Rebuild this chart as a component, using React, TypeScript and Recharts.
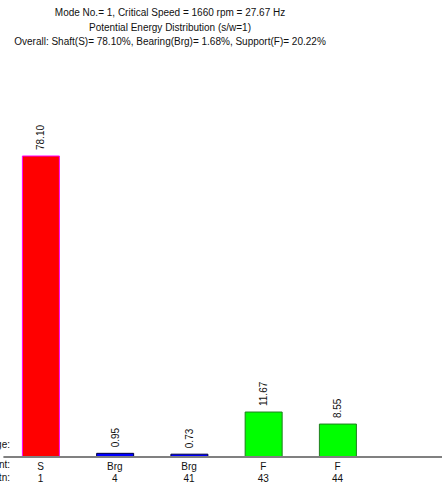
import React from 'react';
import { BarChart, Bar, XAxis, YAxis, Cell, LabelList } from 'recharts';

// Potential energy share per element (percent)
const elements = ['S', 'Brg', 'Brg', 'F', 'F'];
const stations = ['1', '4', '41', '43', '44'];
const energy = [78.10, 0.95, 0.73, 11.67, 8.55];
const fills = ['#ff0000', '#0000ff', '#0000ff', '#00ff00', '#00ff00'];
const strokes = ['#ff00ff', '#000040', '#000040', '#1f7f1f', '#1f7f1f'];
const rowLabels = ['Percentage:', 'Element:', 'Stn:'];

const titleLines = [
  'Mode No.= 1, Critical Speed = 1660 rpm = 27.67 Hz',
  'Potential Energy Distribution (s/w=1)',
  'Overall: Shaft(S)= 78.10%, Bearing(Brg)= 1.68%, Support(F)= 20.22%',
];

const data = elements.map((el, i) => ({ el, stn: stations[i], value: energy[i] }));

const FONT = '"Liberation Sans", Arial, sans-serif';
const FS = 10;
const SHIFT = 70; // part of the chart scrolled off to the left

const ElementTick = (props: any) => {
  const { x, y, payload } = props;
  const row = data[payload.index];
  return (
    <g>
      <text x={x} y={y + 5} textAnchor="middle" fontSize={FS} fontFamily={FONT} fill="#111">{payload.value}</text>
      <text x={x} y={y + 17} textAnchor="middle" fontSize={FS} fontFamily={FONT} fill="#111">{row ? row.stn : ''}</text>
    </g>
  );
};

const ValueLabel = (props: any) => {
  const { x, y, width, value } = props;
  const cx = x + width / 2;
  const top = y - 6;
  return (
    <text
      x={cx}
      y={top}
      dy="0.35em"
      transform={`rotate(-90, ${cx}, ${top})`}
      textAnchor="start"
      fontSize={FS}
      fontFamily={FONT}
      fill="#111"
    >
      {Number(value).toFixed(2)}
    </text>
  );
};

export default function App() {
  return (
    <div style={{ position: 'absolute', left: 0, top: 0, width: 442, height: 485, overflow: 'hidden', background: '#fff', fontFamily: FONT }}>
      {titleLines.map((t, i) => (
        <div
          key={i}
          style={{ position: 'absolute', left: 0, width: 340, top: 6 + i * 14.5, textAlign: 'center', fontSize: FS, lineHeight: '14px', color: '#111', whiteSpace: 'nowrap' }}
        >
          {t}
        </div>
      ))}
      <div style={{ position: 'absolute', left: -SHIFT, top: 0 }}>
        <BarChart
          width={442 + SHIFT}
          height={485}
          data={data}
          margin={{ top: 71.6, right: 0, bottom: 0, left: SHIFT + 3.4 }}
          barSize={37}
        >
          <XAxis
            dataKey="el"
            height={28}
            padding={{ left: 0, right: 67.35 }}
            axisLine={{ stroke: '#808080', strokeWidth: 2 }}
            tickLine={false}
            tick={<ElementTick />}
            interval={0}
          />
          <YAxis hide width={0} domain={[0, 100]} />
          <Bar dataKey="value" isAnimationActive={false} strokeWidth={1}>
            {data.map((d, i) => (
              <Cell key={i} fill={fills[i]} stroke={strokes[i]} />
            ))}
            <LabelList dataKey="value" content={<ValueLabel />} />
          </Bar>
        </BarChart>
      </div>
      {rowLabels.map((t, i) => (
        <div
          key={t}
          style={{ position: 'absolute', right: 432, top: [438, 458, 471][i], fontSize: FS, lineHeight: '14px', color: '#111', whiteSpace: 'nowrap', textAlign: 'right' }}
        >
          {t}
        </div>
      ))}
    </div>
  );
}
